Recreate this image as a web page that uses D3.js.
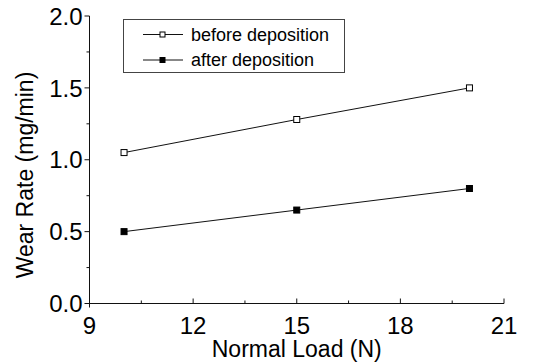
<!DOCTYPE html>
<html><head><meta charset="utf-8">
<script src="https://cdn.jsdelivr.net/npm/d3@7"></script>
<style>body{margin:0;background:#fff}svg{display:block}text{font-family:"Liberation Sans",Arial,sans-serif;fill:#000}</style>
</head><body>
<svg id="c" width="533" height="364"></svg>
<script>
const loads = [10, 15, 20];
const before = [1.05, 1.28, 1.50];
const after = [0.50, 0.65, 0.80];
const seriesNames = ["before deposition", "after deposition"];
const xTicks = [9, 12, 15, 18, 21];
const yTicks = [0.0, 0.5, 1.0, 1.5, 2.0];
const xTitle = "Normal Load (N)";
const yTitle = "Wear Rate (mg/min)";

const svg = d3.select("#c");
const L = 89.5, R = 504, T = 16, B = 303.5;
const x = d3.scaleLinear().domain([9, 21]).range([L, R]);
const y = d3.scaleLinear().domain([0, 2]).range([B, T]);
const col = "#111";

// Y axis
const ya = svg.append("g").attr("transform", `translate(${L},0)`);
ya.append("line").attr("x1", 0).attr("x2", 0).attr("y1", y(2)).attr("y2", B + 4).attr("stroke", col);
ya.selectAll(".mj").data(yTicks).join("line")
  .attr("x1", -5).attr("x2", 0).attr("y1", d => y(d)).attr("y2", d => y(d)).attr("stroke", col);
ya.selectAll(".mn").data(d3.range(0.25, 2, 0.5)).join("line").attr("class", "mn")
  .attr("x1", -3).attr("x2", 0).attr("y1", d => y(d)).attr("y2", d => y(d)).attr("stroke", col);
ya.selectAll("text").data(yTicks).join("text")
  .attr("x", -7).attr("y", d => y(d)).attr("dy", "0.36em").attr("text-anchor", "end")
  .attr("font-size", 24).text(d => d.toFixed(1));

// X axis
const xa = svg.append("g").attr("transform", `translate(0,${B})`);
xa.append("line").attr("x1", L).attr("x2", R).attr("y1", 0).attr("y2", 0).attr("stroke", col);
xa.selectAll(".mj").data(xTicks).join("line").attr("class", "mj")
  .attr("x1", d => x(d)).attr("x2", d => x(d)).attr("y1", -5).attr("y2", 0).attr("stroke", col);
xa.selectAll(".mn").data(d3.range(10.5, 21, 3)).join("line").attr("class", "mn")
  .attr("x1", d => x(d)).attr("x2", d => x(d)).attr("y1", -3).attr("y2", 0).attr("stroke", col);
xa.selectAll("text").data(xTicks).join("text")
  .attr("x", d => x(d)).attr("y", 30).attr("text-anchor", "middle")
  .attr("font-size", 24).text(d => d);

// Titles
svg.append("text").attr("x", (L + R) / 2 + 0).attr("y", 357).attr("text-anchor", "middle")
  .attr("font-size", 23).text(xTitle);
svg.append("text").attr("transform", `translate(33,175) rotate(-90)`).attr("text-anchor", "middle")
  .attr("font-size", 23).text(yTitle);

// Lines and markers
const line = d3.line().x(d => x(d[0])).y(d => y(d[1]));
const series = [
  {name: seriesNames[0], vals: before, fill: "#fff"},
  {name: seriesNames[1], vals: after, fill: "#000"}
];
series.forEach(s => {
  const pts = loads.map((l, i) => [l, s.vals[i]]);
  svg.append("path").attr("d", line(pts)).attr("fill", "none").attr("stroke", col).attr("stroke-width", 1);
  svg.selectAll(null).data(pts).join("rect")
    .attr("x", d => x(d[0]) - 3).attr("y", d => y(d[1]) - 3).attr("width", 6).attr("height", 6)
    .attr("fill", s.fill).attr("stroke", "#000").attr("stroke-width", 1);
});

// Legend
const lg = svg.append("g");
lg.append("rect").attr("x", 123.5).attr("y", 19.5).attr("width", 221).attr("height", 53)
  .attr("fill", "#fff").attr("stroke", "#444").attr("stroke-width", 1);
series.forEach((s, i) => {
  const cy = 34.5 + i * 25.5;
  lg.append("line").attr("x1", 143).attr("x2", 183).attr("y1", cy).attr("y2", cy).attr("stroke", col);
  lg.append("rect").attr("x", 160).attr("y", cy - 2.5).attr("width", 5).attr("height", 5)
    .attr("fill", s.fill).attr("stroke", "#000").attr("stroke-width", 1);
  lg.append("text").attr("x", 191).attr("y", cy).attr("dy", "0.36em").attr("font-size", 18).text(s.name);
});
</script>
</body></html>
